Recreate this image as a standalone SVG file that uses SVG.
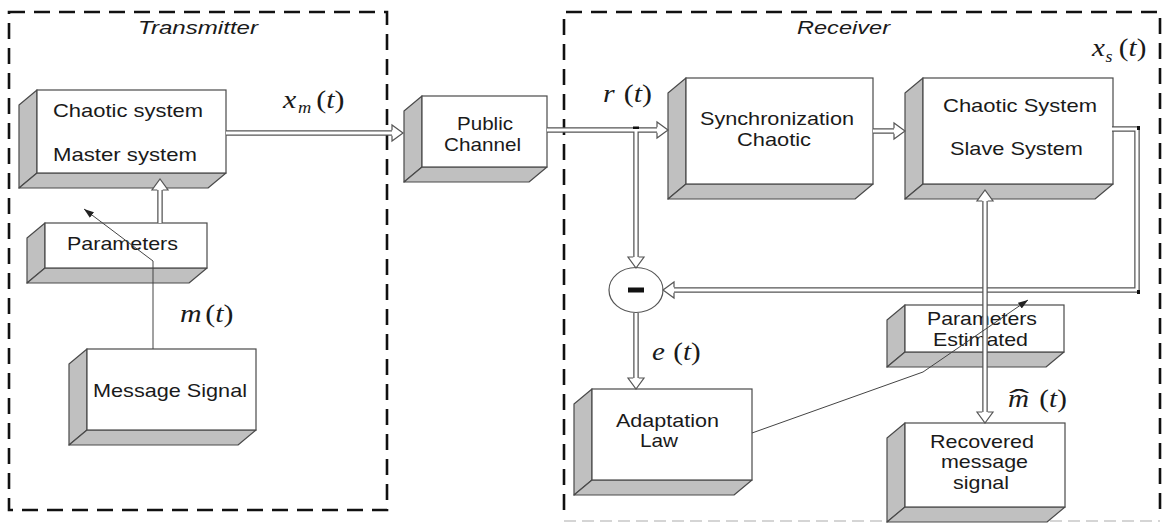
<svg xmlns="http://www.w3.org/2000/svg" xmlns:xlink="http://www.w3.org/1999/xlink" width="1166" height="524" viewBox="0 0 1166 524">
  <style>
    .dash{fill:none;stroke:#111;stroke-width:2.6;stroke-dasharray:16 9}
    .dash-faint{fill:none;stroke:#c8c8c8;stroke-width:1.5;stroke-dasharray:12 6}
    .face{fill:#fff;stroke:#4a4a4a;stroke-width:1.2}
    .side{fill:#c0c0c0;stroke:#4a4a4a;stroke-width:1.2;stroke-linejoin:round}
    .lbl{font-family:"Liberation Sans",Arial,sans-serif;font-size:18.5px;fill:#1a1a1a;text-anchor:middle}
    .title{font-family:"Liberation Sans",Arial,sans-serif;font-style:italic;font-size:19px;fill:#1a1a1a;text-anchor:middle}
    .math{font-family:"Liberation Serif","Times New Roman",serif;font-size:26px;fill:#1a1a1a}
    .it{font-style:italic}
    .pipe-o{fill:none;stroke:#555;stroke-width:5.5;stroke-linejoin:miter}
    .pipe-i{fill:none;stroke:#fff;stroke-width:3;stroke-linejoin:miter}
    .head{fill:#fff;stroke:#555;stroke-width:1.2;stroke-linejoin:miter}
    .thin{fill:none;stroke:#444;stroke-width:1}
    .knot{fill:#111}
  </style>
  <defs>
    <!-- hollow arrowhead, tip at origin, pointing +x -->
    <path id="ah" class="head" d="M-11,-2.75 L-11,-8 L0,0 L-11,8 L-11,2.75"/>
    <marker id="tip" markerUnits="userSpaceOnUse" markerWidth="10" markerHeight="7" refX="10" refY="3.5" orient="auto">
      <path d="M0,0 L10,3.5 L0,7 Z" fill="#222"/>
    </marker>
    <!-- double-line connector paths -->
    <path id="c-xm" d="M226,133 H392"/>
    <path id="c-r" d="M547,130 H657"/>
    <path id="c-rdown" d="M636,130 V257"/>
    <path id="c-sync" d="M873,131 H894"/>
    <path id="c-xs" d="M1112,129 H1137 V290 H674"/>
    <path id="c-e" d="M636,313 V378"/>
    <path id="c-par" d="M160,223 V190"/>
    <path id="c-est" d="M985,201 V412"/>
  </defs>

  <!-- frames -->
  <g id="transmitter-frame">
    <rect class="dash" x="9" y="12" width="378" height="498"/>
    <text class="title" x="198" y="34" textLength="120" lengthAdjust="spacingAndGlyphs">Transmitter</text>
  </g>
  <g id="receiver-frame">
    <path class="dash" d="M564,510 V12 H1160 V510"/>
    <path class="dash-faint" d="M564,521 H1160"/>
    <text class="title" x="843.5" y="34" textLength="93" lengthAdjust="spacingAndGlyphs">Receiver</text>
  </g>

  <!-- blocks: front face plus shaded left and bottom faces, depth (-18,15) -->
  <g id="master">
    <polygon class="side" points="37,90 37,173 19,188 19,105"/>
    <polygon class="side" points="37,173 226,173 208,188 19,188"/>
    <rect class="face" x="37" y="90" width="189" height="83"/>
    <text class="lbl" x="128" y="117" textLength="150" lengthAdjust="spacingAndGlyphs">Chaotic system</text>
    <text class="lbl" x="125" y="161" textLength="144" lengthAdjust="spacingAndGlyphs">Master system</text>
  </g>
  <g id="parameters">
    <polygon class="side" points="45,223 45,268 27,283 27,238"/>
    <polygon class="side" points="45,268 207,268 189,283 27,283"/>
    <rect class="face" x="45" y="223" width="162" height="45"/>
    <text class="lbl" x="122.5" y="250" textLength="111" lengthAdjust="spacingAndGlyphs">Parameters</text>
  </g>
  <g id="message">
    <polygon class="side" points="87,349 87,430 69,445 69,364"/>
    <polygon class="side" points="87,430 256,430 238,445 69,445"/>
    <rect class="face" x="87" y="349" width="169" height="81"/>
    <text class="lbl" x="170" y="397" textLength="154" lengthAdjust="spacingAndGlyphs">Message Signal</text>
  </g>
  <g id="public-channel">
    <polygon class="side" points="422,96 422,167 404,182 404,111"/>
    <polygon class="side" points="422,167 547,167 529,182 404,182"/>
    <rect class="face" x="422" y="96" width="125" height="71"/>
    <text class="lbl" x="485" y="130" textLength="56" lengthAdjust="spacingAndGlyphs">Public</text>
    <text class="lbl" x="482.5" y="151" textLength="77" lengthAdjust="spacingAndGlyphs">Channel</text>
  </g>
  <g id="synchronization">
    <polygon class="side" points="686,78 686,184 668,199 668,93"/>
    <polygon class="side" points="686,184 873,184 855,199 668,199"/>
    <rect class="face" x="686" y="78" width="187" height="106"/>
    <text class="lbl" x="777" y="125" textLength="154" lengthAdjust="spacingAndGlyphs">Synchronization</text>
    <text class="lbl" x="774" y="146" textLength="74" lengthAdjust="spacingAndGlyphs">Chaotic</text>
  </g>
  <g id="slave">
    <polygon class="side" points="923,78 923,184 905,199 905,93"/>
    <polygon class="side" points="923,184 1113,184 1095,199 905,199"/>
    <rect class="face" x="923" y="78" width="190" height="106"/>
    <text class="lbl" x="1020" y="112" textLength="154" lengthAdjust="spacingAndGlyphs">Chaotic System</text>
    <text class="lbl" x="1016.5" y="155" textLength="133" lengthAdjust="spacingAndGlyphs">Slave System</text>
  </g>
  <g id="parameters-estimated">
    <polygon class="side" points="905,305 905,352 887,367 887,320"/>
    <polygon class="side" points="905,352 1064,352 1046,367 887,367"/>
    <rect class="face" x="905" y="305" width="159" height="47"/>
    <text class="lbl" x="982" y="325" textLength="110" lengthAdjust="spacingAndGlyphs">Parameters</text>
    <text class="lbl" x="980.5" y="346" textLength="95" lengthAdjust="spacingAndGlyphs">Estimated</text>
  </g>
  <g id="recovered">
    <polygon class="side" points="905,423 905,507 887,522 887,438"/>
    <polygon class="side" points="905,507 1065,507 1047,522 887,522"/>
    <rect class="face" x="905" y="423" width="160" height="84"/>
    <text class="lbl" x="982" y="448" textLength="104" lengthAdjust="spacingAndGlyphs">Recovered</text>
    <text class="lbl" x="984.5" y="468" textLength="87" lengthAdjust="spacingAndGlyphs">message</text>
    <text class="lbl" x="981" y="489" textLength="56" lengthAdjust="spacingAndGlyphs">signal</text>
  </g>
  <g id="adaptation">
    <polygon class="side" points="592,389 592,480 574,495 574,404"/>
    <polygon class="side" points="592,480 752,480 734,495 574,495"/>
    <rect class="face" x="592" y="389" width="160" height="91"/>
    <text class="lbl" x="667.5" y="427" textLength="103" lengthAdjust="spacingAndGlyphs">Adaptation</text>
    <text class="lbl" x="659" y="447" textLength="38" lengthAdjust="spacingAndGlyphs">Law</text>
  </g>
  <g id="subtractor">
    <ellipse cx="636" cy="290" rx="27" ry="22.5" fill="#fff" stroke="#555" stroke-width="1.2"/>
    <rect x="628" y="287.5" width="16" height="5" fill="#111"/>
  </g>

  <!-- connectors -->
  <g id="connectors">
    <!-- forward path and r(t) branch: outlines first, then channels, so the tee merges -->
    <use xlink:href="#c-xm" class="pipe-o"/>
    <use xlink:href="#c-r" class="pipe-o"/>
    <use xlink:href="#c-rdown" class="pipe-o"/>
    <use xlink:href="#c-sync" class="pipe-o"/>
    <use xlink:href="#c-e" class="pipe-o"/>
    <use xlink:href="#c-par" class="pipe-o"/>
    <use xlink:href="#c-xm" class="pipe-i"/>
    <use xlink:href="#c-r" class="pipe-i"/>
    <use xlink:href="#c-rdown" class="pipe-i"/>
    <use xlink:href="#c-sync" class="pipe-i"/>
    <use xlink:href="#c-e" class="pipe-i"/>
    <use xlink:href="#c-par" class="pipe-i"/>
    <!-- x_s(t) feedback loop -->
    <use xlink:href="#c-xs" class="pipe-o"/>
    <use xlink:href="#c-xs" class="pipe-i"/>
    <!-- estimated parameters: up to slave, down to recovered signal -->
    <use xlink:href="#c-est" class="pipe-o"/>
    <use xlink:href="#c-est" class="pipe-i"/>

    <use xlink:href="#ah" transform="translate(403,133)"/>
    <use xlink:href="#ah" transform="translate(668,130)"/>
    <use xlink:href="#ah" transform="translate(636,268) rotate(90)"/>
    <use xlink:href="#ah" transform="translate(905,131)"/>
    <use xlink:href="#ah" transform="translate(663,290) rotate(180)"/>
    <use xlink:href="#ah" transform="translate(636,389) rotate(90)"/>
    <use xlink:href="#ah" transform="translate(160,179) rotate(-90)"/>
    <use xlink:href="#ah" transform="translate(985,190) rotate(-90)"/>
    <use xlink:href="#ah" transform="translate(985,423) rotate(90)"/>

    <!-- junction ticks -->
    <rect class="knot" x="633" y="126.5" width="6" height="2.5"/>
    <rect class="knot" x="1137" y="126" width="3" height="4"/>
    <rect class="knot" x="1137" y="290" width="3" height="4"/>

    <!-- thin signal lines -->
    <path class="thin" d="M153,349 V261 L84,209" marker-end="url(#tip)"/>
    <path class="thin" d="M752,433 L923,372 L1028,300" marker-end="url(#tip)"/>
  </g>

  <!-- signal labels (serif, widened slightly) -->
  <g id="labels">
    <text class="math" transform="translate(283,108) scale(1.15,1)"><tspan class="it" x="0">x</tspan><tspan class="it" x="13" dy="5" font-size="16">m</tspan><tspan x="29" dy="-5">(</tspan><tspan class="it">t</tspan><tspan>)</tspan></text>
    <text class="math" transform="translate(603,102) scale(1.15,1)"><tspan class="it" x="0">r</tspan><tspan x="18">(</tspan><tspan class="it">t</tspan><tspan>)</tspan></text>
    <text class="math" transform="translate(1092,56) scale(1.12,1)"><tspan class="it" x="0">x</tspan><tspan class="it" x="12" dy="6" font-size="16">s</tspan><tspan x="24" dy="-6">(</tspan><tspan class="it">t</tspan><tspan>)</tspan></text>
    <text class="math" transform="translate(180,322) scale(1.15,1)"><tspan class="it" x="0">m</tspan><tspan x="22">(</tspan><tspan class="it">t</tspan><tspan>)</tspan></text>
    <text class="math" transform="translate(652,360) scale(1.12,1)"><tspan class="it" x="0">e</tspan><tspan x="19">(</tspan><tspan class="it">t</tspan><tspan>)</tspan></text>
    <!-- m-hat: the wide hat is a stretched circumflex placed over the m -->
    <text class="math" transform="translate(1008,407) scale(1.12,1)"><tspan class="it" x="0">m</tspan><tspan x="1" textLength="18" lengthAdjust="spacingAndGlyphs">ˆ</tspan><tspan x="28">(</tspan><tspan class="it">t</tspan><tspan>)</tspan></text>
  </g>
</svg>
